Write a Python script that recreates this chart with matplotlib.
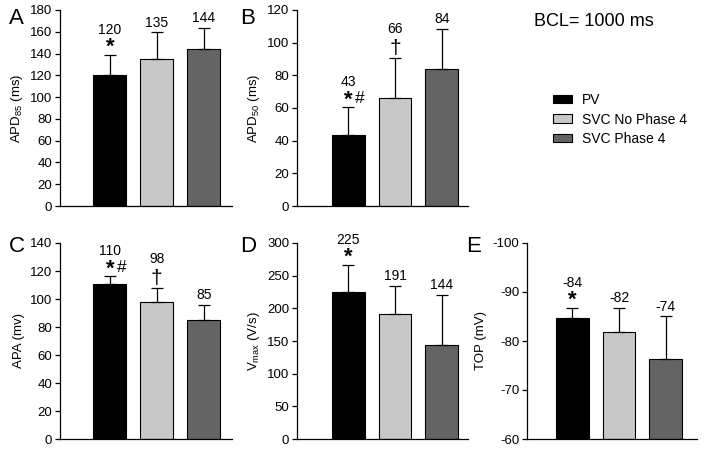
import numpy as np
import matplotlib
matplotlib.use('Agg')
import matplotlib.pyplot as plt
from matplotlib.patches import Patch

plt.rcParams['font.family'] = ['Liberation Sans', 'DejaVu Sans']
plt.rcParams['mathtext.fontset'] = 'custom'
plt.rcParams['mathtext.rm'] = 'Liberation Sans'
plt.rcParams['mathtext.it'] = 'Liberation Sans'
plt.rcParams['axes.unicode_minus'] = False

groups = ['PV', 'SVC No Phase 4', 'SVC Phase 4']
colors = ['#000000', '#c8c8c8', '#646464']

# panel A: APD85
apd85 = [120, 135, 144]
apd85_err = [19, 24.5, 19.5]
apd85_lab = ['120', '135', '144']
apd85_sig = ['*', '', '']

# panel B: APD50
apd50 = [43.5, 66, 84]
apd50_err = [17, 24.5, 24.5]
apd50_lab = ['43', '66', '84']
apd50_sig = ['*#', '\u2020', '']

# panel C: APA
apa = [110.5, 98, 85]
apa_err = [5.7, 10, 11]
apa_lab = ['110', '98', '85']
apa_sig = ['*#', '\u2020', '']

# panel D: Vmax
vmax = [225, 191, 144]
vmax_err = [42, 43, 77]
vmax_lab = ['225', '191', '144']
vmax_sig = ['*', '', '']

# panel E: TOP
top = [-84.6, -81.8, -76.4]
top_err = [2.2, 4.9, 8.6]
top_lab = ['-84', '-82', '-74']
top_sig = ['*', '', '']

W, H = 704, 449
fig = plt.figure(figsize=(W / 100, H / 100), dpi=100)


def px_axes(x0, x1, ytop, ybot):
    return fig.add_axes([x0 / W, 1 - ybot / H, (x1 - x0) / W, (ybot - ytop) / H])


def panel(ax, vals, errs, labs, sigs, ylim, yticks, ylabel, xlim, invert=False):
    x = np.arange(len(vals))
    base = ylim[0]
    heights = [v - base for v in vals]
    ax.bar(x, heights, bottom=base, width=0.7, color=colors, edgecolor='black',
           linewidth=0.8, zorder=2)
    if invert:
        yerr = [errs, [0] * len(errs)]
    else:
        yerr = [[0] * len(errs), errs]
    ax.errorbar(x, vals, yerr=yerr, fmt='none', ecolor='black', elinewidth=0.9,
                capsize=4, capthick=0.9, zorder=3)
    # ylim given as (bottom, top); a reversed pair flips the axis
    ax.set_ylim(ylim)
    ax.set_xlim(xlim)
    ax.set_yticks(yticks)
    ax.set_xticks([])
    ax.spines['top'].set_visible(False)
    ax.spines['right'].set_visible(False)
    for s in ['left', 'bottom']:
        ax.spines[s].set_linewidth(0.9)
    ax.tick_params(axis='y', length=3.5, width=0.9, labelsize=9.5, pad=2)
    ax.set_ylabel(ylabel, fontsize=9.5, labelpad=4)
    for xi, v, e, lab, sig in zip(x, vals, errs, labs, sigs):
        yc = v - e if invert else v + e
        off = 2
        if sig:
            if sig.startswith('*'):
                ax.annotate('*', (xi, yc), xytext=(0, -2.5), textcoords='offset points',
                            ha='center', va='bottom', fontsize=16, fontweight='bold')
                if '#' in sig:
                    ax.annotate('#', (xi, yc), xytext=(5, 1), textcoords='offset points',
                                ha='left', va='bottom', fontsize=12.5)
                off = 13
            else:
                ax.annotate(sig, (xi, yc), xytext=(0, 0), textcoords='offset points',
                            ha='center', va='bottom', fontsize=15)
                off = 16
        ax.annotate(lab, (xi, yc), xytext=(0, off), textcoords='offset points',
                    ha='center', va='bottom', fontsize=10)


axA = px_axes(60, 232, 10, 206)
panel(axA, apd85, apd85_err, apd85_lab, apd85_sig, (0, 180), range(0, 181, 20),
      'APD$_{85}$ (ms)', (-1.06, 2.6))
axB = px_axes(297, 468, 10, 206)
panel(axB, apd50, apd50_err, apd50_lab, apd50_sig, (0, 120), range(0, 121, 20),
      'APD$_{50}$ (ms)', (-1.1, 2.56))
axC = px_axes(60, 232, 243, 439)
panel(axC, apa, apa_err, apa_lab, apa_sig, (0, 140), range(0, 141, 20),
      'APA (mv)', (-1.06, 2.6))
axD = px_axes(297, 468, 243, 439)
panel(axD, vmax, vmax_err, vmax_lab, vmax_sig, (0, 300), range(0, 301, 50),
      'V$_{\\rm max}$ (V/s)', (-1.1, 2.56))
axE = px_axes(527, 697, 243, 439)
panel(axE, top, top_err, top_lab, top_sig, (-60, -100), range(-100, -59, 10),
      'TOP (mV)', (-0.97, 2.67), invert=True)

# panel letters
for letter, (px, py) in zip('ABCDE', [(9, 18), (240, 18), (9, 246), (240, 246), (466, 246)]):
    fig.text(px / W, 1 - py / H, letter, fontsize=16, ha='left', va='center')

fig.text(594 / W, 1 - 22 / H, 'BCL= 1000 ms', fontsize=13, ha='center', va='center')

handles = [Patch(facecolor=c, edgecolor='black', linewidth=0.8) for c in colors]
fig.legend(handles, groups, loc='upper left', bbox_to_anchor=(546 / W, 1 - 86 / H),
           frameon=False, fontsize=10, handlelength=1.4, handleheight=0.55,
           labelspacing=0.4, handletextpad=0.7, borderpad=0)

fig.savefig('out.png', dpi=100)
